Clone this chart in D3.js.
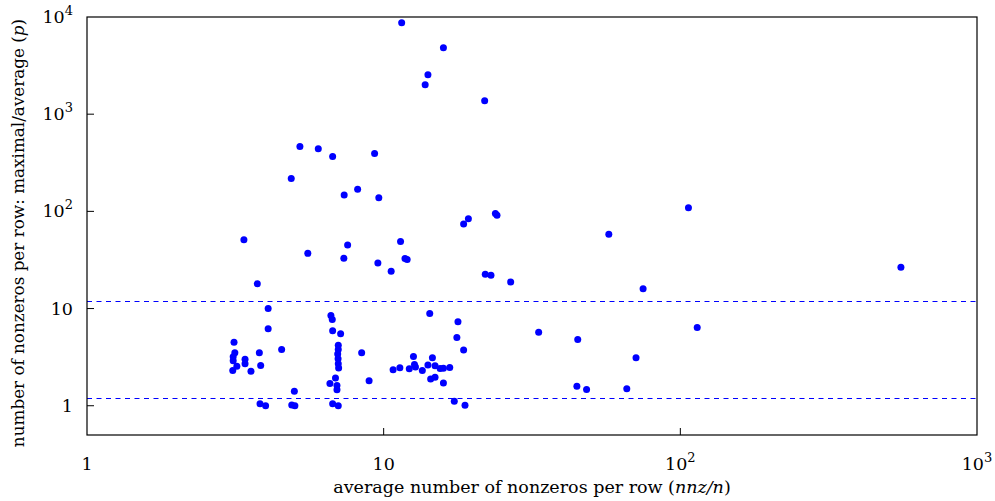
<!DOCTYPE html>
<html>
<head>
<meta charset="utf-8">
<script src="https://cdn.jsdelivr.net/npm/d3@7"></script>
<style>
  body { margin: 0; background: #fff; }
  svg text { font-family: "DejaVu Serif", "Liberation Serif", serif; fill: #000; }
</style>
</head>
<body>
<div id="chart"></div>
<script>
// average nonzeros per row (nnz/n)
var avgNnz = [3.75, 4.08, 4.08, 3.13, 4.53, 3.15, 3.11, 3.81, 3.41, 3.41,
  3.11, 3.85, 3.2, 3.1, 3.57, 5.0, 3.83, 4.0, 4.9, 5.02,
  6.64, 6.71, 6.73, 7.16, 8.43, 7.03, 7.03, 7.0, 7.02, 7.03,
  7.05, 6.88, 6.59, 6.96, 6.96, 8.93, 10.76, 11.34, 6.73, 7.03,
  26.8, 14.3, 17.8, 17.65, 18.6, 12.6, 14.6, 12.2, 12.7, 12.8,
  13.5, 14.1, 14.9, 15.5, 15.9, 16.7, 14.4, 14.9, 15.9, 17.3,
  18.8, 5.22, 6.02, 6.73, 9.32, 4.88, 8.17, 7.36, 9.63, 3.38,
  11.4, 7.56, 5.55, 7.34, 11.8, 12.0, 9.56, 10.6, 11.5, 15.9,
  14.1, 13.8, 21.9, 19.3, 18.6, 23.8, 24.1, 22.0, 23.0, 106.5,
  57.4, 554, 74.9, 33.3, 114, 45.1, 70.9, 44.8, 48.3, 66];
// maximal / average nonzeros per row (p)
var maxOverAvg = [18, 10, 6.2, 4.5, 3.8, 3.5, 3.2, 3.5, 3.0, 2.7,
  2.9, 2.6, 2.55, 2.3, 2.27, 1.41, 1.05, 1.0, 1.02, 1.0,
  8.5, 7.7, 5.9, 5.5, 3.5, 4.2, 3.8, 3.4, 3.05, 2.7,
  2.45, 1.93, 1.69, 1.46, 1.62, 1.81, 2.35, 2.46, 1.05, 1.0,
  18.8, 8.9, 7.3, 5.05, 3.74, 3.22, 3.12, 2.4, 2.66, 2.5,
  2.31, 2.62, 2.58, 2.42, 2.43, 2.48, 1.88, 1.97, 1.71, 1.11,
  1.01, 466, 440, 367, 395, 218, 169, 147, 138, 51,
  49, 45, 37, 33, 32.7, 31.9, 29.4, 24.2, 8740, 4830,
  2545, 2010, 1374, 84, 74, 95, 91, 22.5, 22.0, 109,
  58, 26.6, 16, 5.7, 6.4, 4.8, 3.12, 1.59, 1.47, 1.5];
var thresholds = [1.2, 12];
var xTicks = [1, 10, 100, 1000];
var yTicks = [1, 10, 100, 1000, 10000];

var W = 995, H = 501;
var margin = {top: 17, right: 18, bottom: 66, left: 87};

var svg = d3.select("#chart").append("svg")
    .attr("width", W)
    .attr("height", H);

var x = d3.scaleLog().domain([1, 1000]).range([margin.left, W - margin.right]);
var y = d3.scaleLog().domain([0.5, 10000]).range([H - margin.bottom, margin.top]);

var pts = avgNnz.map(function (v, i) { return {x: v, y: maxOverAvg[i]}; });

// threshold lines
svg.selectAll("line.thr").data(thresholds).enter().append("line")
    .attr("class", "thr")
    .attr("x1", x.range()[0]).attr("x2", x.range()[1])
    .attr("y1", function (d) { return Math.round(y(d)) + 0.5; })
    .attr("y2", function (d) { return Math.round(y(d)) + 0.5; })
    .attr("stroke", "#0000ff")
    .attr("stroke-width", 1)
    .attr("stroke-dasharray", "5,4.5");

svg.selectAll("circle").data(pts).enter().append("circle")
    .attr("cx", function (d) { return x(d.x); })
    .attr("cy", function (d) { return y(d.y); })
    .attr("r", 3.5)
    .attr("fill", "#0000ff");

// ticks pointing inward, no top/right ticks
var tickLen = 7;
svg.selectAll("line.xt").data(xTicks.slice(1, -1)).enter().append("line")
    .attr("x1", function (d) { return x(d); }).attr("x2", function (d) { return x(d); })
    .attr("y1", y.range()[0]).attr("y2", y.range()[0] - tickLen)
    .attr("stroke", "#000");
svg.selectAll("line.yt").data(yTicks.slice(0, -1)).enter().append("line")
    .attr("y1", function (d) { return y(d); }).attr("y2", function (d) { return y(d); })
    .attr("x1", x.range()[0]).attr("x2", x.range()[0] + tickLen)
    .attr("stroke", "#000");

svg.append("rect")
    .attr("x", x.range()[0]).attr("y", y.range()[1])
    .attr("width", x.range()[1] - x.range()[0])
    .attr("height", y.range()[0] - y.range()[1])
    .attr("fill", "none")
    .attr("stroke", "#000")
    .attr("stroke-width", 1.2);

function tickLabel(sel, d) {
    var e = Math.round(Math.log10(d));
    if (e < 2) { sel.text(String(d)); return; }
    sel.append("tspan").text("10");
    sel.append("tspan").attr("dy", -8).attr("font-size", 13).text(e);
}

svg.selectAll("text.xl").data(xTicks).enter().append("text")
    .attr("x", function (d) { return x(d); })
    .attr("y", 470)
    .attr("text-anchor", "middle")
    .attr("font-size", 17.5)
    .each(function (d) { tickLabel(d3.select(this), d); });

svg.selectAll("text.yl").data(yTicks).enter().append("text")
    .attr("x", 73)
    .attr("y", function (d) { return y(d) + 6; })
    .attr("text-anchor", "end")
    .attr("font-size", 17.5)
    .each(function (d) { tickLabel(d3.select(this), d); });

var xl = svg.append("text")
    .attr("x", 532).attr("y", 493)
    .attr("text-anchor", "middle")
    .attr("font-size", 17.5);
xl.append("tspan").text("average number of nonzeros per row (");
xl.append("tspan").attr("font-style", "italic").text("nnz/n");
xl.append("tspan").text(")");

var yl = svg.append("text")
    .attr("transform", "translate(24," + 233 + ") rotate(-90)")
    .attr("text-anchor", "middle")
    .attr("font-size", 16.8);
yl.append("tspan").text("number of nonzeros per row: maximal/average (");
yl.append("tspan").attr("font-style", "italic").text("p");
yl.append("tspan").text(")");
</script>
</body>
</html>
